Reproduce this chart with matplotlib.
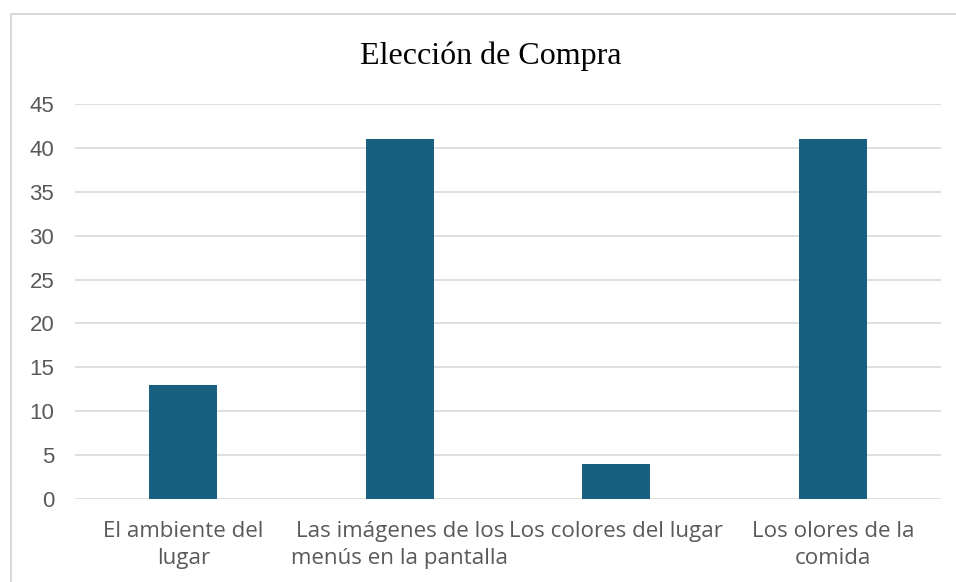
import matplotlib
matplotlib.use("Agg")
import matplotlib.pyplot as plt
from matplotlib.patches import Rectangle

categories = ["El ambiente del\nlugar", "Las imágenes de los\nmenús en la pantalla",
              "Los colores del lugar", "Los olores de la\ncomida"]
values = [13, 41, 4, 41]
yticks = [0, 5, 10, 15, 20, 25, 30, 35, 40, 45]

W, H = 956, 582
fig = plt.figure(figsize=(W/100, H/100), dpi=100)
fig.patches.append(Rectangle((11/W, -0.1), 1.2, 1 - 14/H + 0.1, transform=fig.transFigure,
                             fill=False, edgecolor="#d9d9d9", linewidth=1.5))
ax = fig.add_axes([75/W, 1 - 499/H, (941-75)/W, (499-104)/H])
x = list(range(len(categories)))
ax.bar(x, values, width=0.314, color="#17607F", zorder=3)
ax.set_xlim(-0.5, len(categories) - 0.5)
ax.set_ylim(0, 45)
ax.set_yticks(yticks)
ax.set_xticks(x)
ax.set_xticklabels(categories, fontsize=16.1, color="#595959", family="Open Sans", linespacing=1.35)
for lab in ax.get_yticklabels():
    lab.set_fontsize(16); lab.set_color("#595959"); lab.set_family("Liberation Sans")
ax.grid(axis="y", color="#d9d9d9", linewidth=1.2, zorder=0)
for s in ax.spines.values():
    s.set_visible(False)
ax.tick_params(length=0)
ax.tick_params(axis="y", pad=15)
ax.tick_params(axis="x", pad=16)
fig.text(491/W, 1 - 56/H, "Elección de Compra", ha="center", va="center",
         fontsize=23, family="Liberation Serif", color="#000000")
fig.savefig("out.png", dpi=100)
